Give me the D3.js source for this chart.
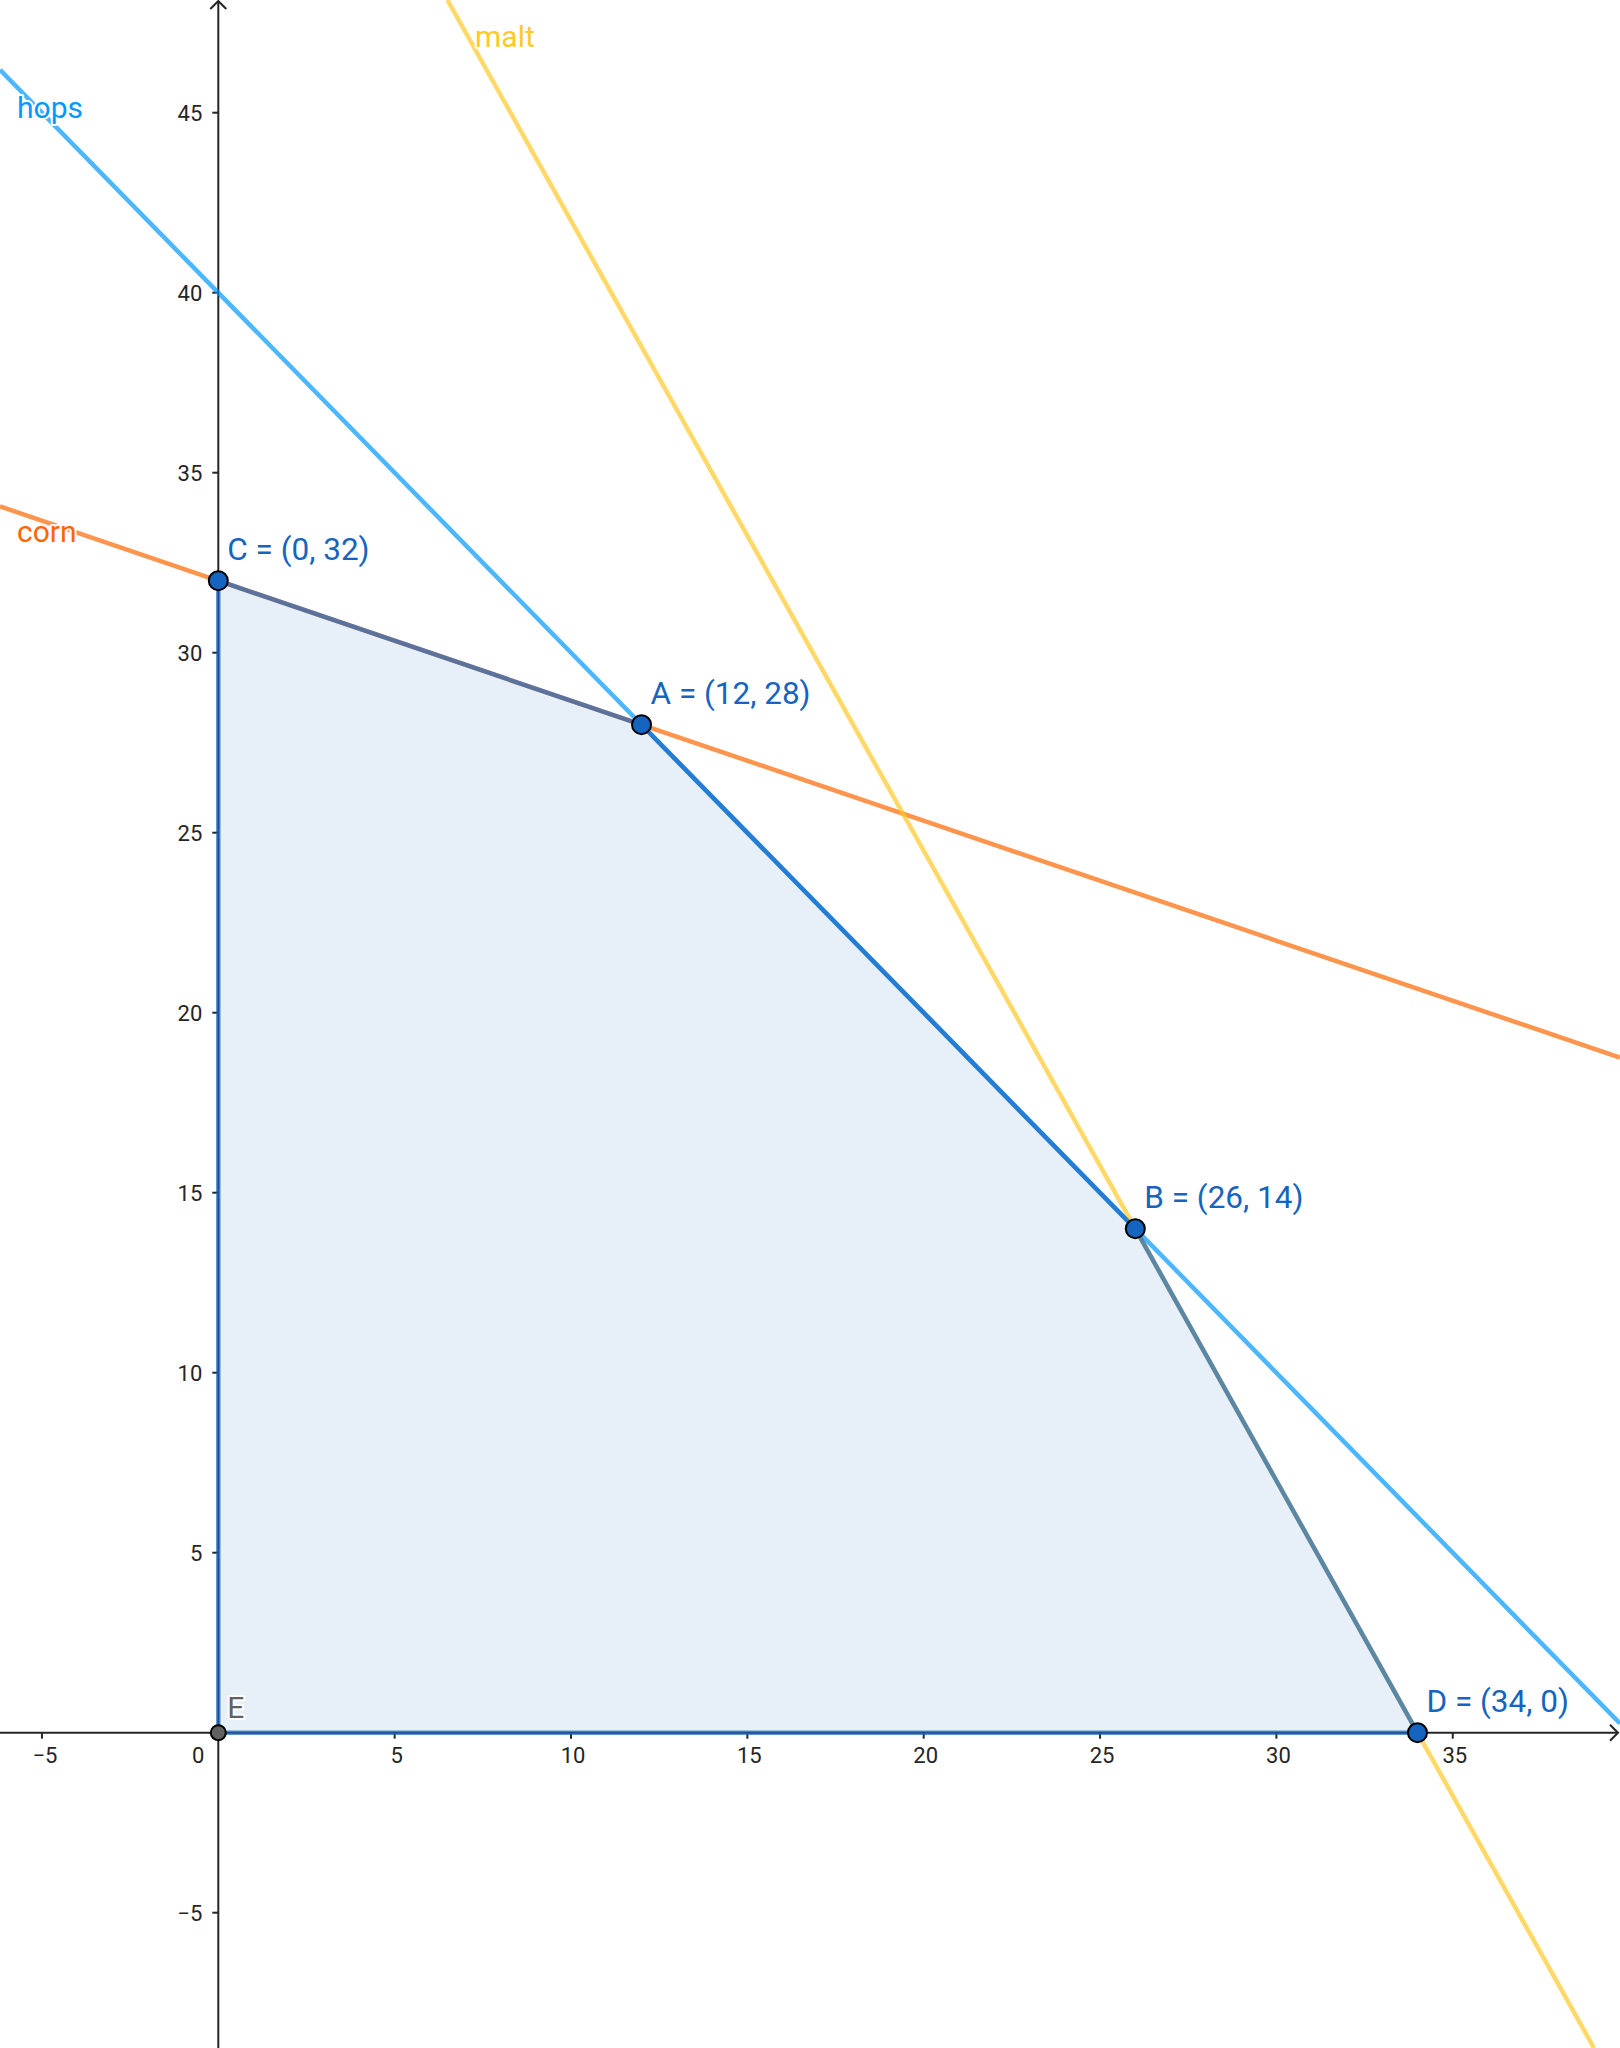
<!DOCTYPE html>
<html>
<head>
<meta charset="utf-8">
<script src="https://cdn.jsdelivr.net/npm/d3@7"></script>
<style>
  html, body { margin: 0; padding: 0; background: #fff; }
  svg { display: block; font-family: Roboto, "Noto Sans", sans-serif; }
</style>
</head>
<body>
<svg id="chart" width="1620" height="2048"></svg>
<script>
// ---- data ----
// constraint lines: a*x + b*y = c
const lineNames = ["corn", "hops", "malt"];
const lineA = [1, 1, 7];
const lineB = [3, 1, 4];
const lineC = [96, 40, 238];
const lineColors = ["#FF6600", "#0099FF", "#FFC926"];

// vertices of the feasible region
const pointNames = ["A", "B", "C", "D", "E"];
const pointX = [12, 26, 0, 34, 0];
const pointY = [28, 14, 32, 0, 0];
const pointShowCoords = [true, true, true, true, false];
const polygonOrder = ["E", "D", "B", "A", "C"];

// axis ticks
const xTicks = [-5, 0, 5, 10, 15, 20, 25, 30, 35];
const yTicks = [-5, 5, 10, 15, 20, 25, 30, 35, 40, 45];

// ---- layout ----
const W = 1620, H = 2048;
const ox = 218.3, oy = 1732.7;       // pixel position of origin
const kx = 35.27, ky = 36.0;          // pixels per unit
const x = d3.scaleLinear().domain([-ox / kx, (W - ox) / kx]).range([0, W]);
const y = d3.scaleLinear().domain([-(H - oy) / ky, oy / ky]).range([H, 0]);

const svg = d3.select("#chart");
const axisColor = "#252525";

// ---- axes ----
const gAx = svg.append("g");
gAx.append("line").attr("x1", 0).attr("x2", W - 2).attr("y1", y(0)).attr("y2", y(0))
  .attr("stroke", axisColor).attr("stroke-width", 2);
gAx.append("line").attr("x1", x(0)).attr("x2", x(0)).attr("y1", 1).attr("y2", H)
  .attr("stroke", axisColor).attr("stroke-width", 2);
// arrows
gAx.append("path")
  .attr("d", `M${W - 10},${y(0) - 8} L${W - 2},${y(0)} L${W - 10},${y(0) + 8}`)
  .attr("fill", "none").attr("stroke", axisColor).attr("stroke-width", 2);
gAx.append("path")
  .attr("d", `M${x(0) - 8},${9} L${x(0)},${1} L${x(0) + 8},${9}`)
  .attr("fill", "none").attr("stroke", axisColor).attr("stroke-width", 2);

// x ticks
xTicks.forEach(t => {
  if (t !== 0) {
    gAx.append("line").attr("x1", x(t)).attr("x2", x(t)).attr("y1", y(0)).attr("y2", y(0) + 6)
      .attr("stroke", axisColor).attr("stroke-width", 2);
  }
  const lbl = t < 0 ? "\u2212" + Math.abs(t) : String(t);
  gAx.append("text")
    .attr("x", t === 0 ? x(0) - 14 : x(t) + (t < 0 ? 3 : 2))
    .attr("y", y(0) + 30)
    .attr("text-anchor", t === 0 ? "end" : "middle")
    .attr("font-size", 22).attr("fill", axisColor)
    .text(lbl);
});
// y ticks
yTicks.forEach(t => {
  gAx.append("line").attr("x1", x(0) - 6).attr("x2", x(0)).attr("y1", y(t)).attr("y2", y(t))
    .attr("stroke", axisColor).attr("stroke-width", 2);
  const lbl = t < 0 ? "\u2212" + Math.abs(t) : String(t);
  gAx.append("text")
    .attr("x", x(0) - 16).attr("y", y(t) + 8)
    .attr("text-anchor", "end")
    .attr("font-size", 22).attr("fill", axisColor)
    .text(lbl);
});

// ---- polygon fill ----
const pIdx = n => pointNames.indexOf(n);
const polyPts = polygonOrder.map(n => [x(pointX[pIdx(n)]), y(pointY[pIdx(n)])]);
svg.append("path")
  .attr("d", d3.line()(polyPts) + "Z")
  .attr("fill", "#1565C0").attr("fill-opacity", 0.1).attr("stroke", "none");

// ---- constraint lines ----
const [x0, x1] = x.domain();
const [y0, y1] = y.domain();
function clipLine(a, b, c) {
  const pts = [];
  if (b !== 0) {
    [x0, x1].forEach(xx => { const yy = (c - a * xx) / b; if (yy >= y0 && yy <= y1) pts.push([xx, yy]); });
  }
  if (a !== 0) {
    [y0, y1].forEach(yy => { const xx = (c - b * yy) / a; if (xx >= x0 && xx <= x1) pts.push([xx, yy]); });
  }
  pts.sort((p, q) => p[0] - q[0]);
  return [pts[0], pts[pts.length - 1]];
}
const gLines = svg.append("g");
lineNames.forEach((n, i) => {
  const [p, q] = clipLine(lineA[i], lineB[i], lineC[i]);
  gLines.append("line")
    .attr("x1", x(p[0])).attr("y1", y(p[1])).attr("x2", x(q[0])).attr("y2", y(q[1]))
    .attr("stroke", lineColors[i]).attr("stroke-opacity", 0.7).attr("stroke-width", 4.5);
});

// ---- polygon edges (segments) ----
const gSeg = svg.append("g");
for (let i = 0; i < polyPts.length; i++) {
  const p = polyPts[i], q = polyPts[(i + 1) % polyPts.length];
  gSeg.append("line")
    .attr("x1", p[0]).attr("y1", p[1]).attr("x2", q[0]).attr("y2", q[1])
    .attr("stroke", "#1565C0").attr("stroke-opacity", 0.7).attr("stroke-width", 4.5)
    .attr("stroke-linecap", "round");
}

// ---- line labels ----
const lineLabelPx = [17, 17, 475];
const lineLabelDy = [30, 31, -2];
lineNames.forEach((n, i) => {
  const xd = x.invert(lineLabelPx[i]);
  const yd = (lineC[i] - lineA[i] * xd) / lineB[i];
  svg.append("text")
    .attr("x", lineLabelPx[i]).attr("y", y(yd) + lineLabelDy[i])
    .attr("font-size", 30).attr("fill", lineColors[i])
    .attr("stroke", "#fff").attr("stroke-width", 4).attr("paint-order", "stroke")
    .attr("stroke-linejoin", "round")
    .text(n);
});

// ---- points ----
const gPts = svg.append("g");
pointNames.forEach((n, i) => {
  const isE = !pointShowCoords[i];
  gPts.append("circle")
    .attr("cx", x(pointX[i])).attr("cy", y(pointY[i]))
    .attr("r", isE ? 7.5 : 9.5)
    .attr("fill", isE ? "#616161" : "#1565C0")
    .attr("stroke", "#000").attr("stroke-width", 2);
});
pointNames.forEach((n, i) => {
  const isE = !pointShowCoords[i];
  gPts.append("text")
    .attr("x", x(pointX[i]) + (isE ? 9 : 9))
    .attr("y", y(pointY[i]) + (isE ? -15 : -21))
    .attr("font-size", isE ? 30 : 31.5)
    .attr("fill", isE ? "#616161" : "#1565C0")
    .attr("stroke", "#fff").attr("stroke-width", 4).attr("paint-order", "stroke")
    .attr("stroke-linejoin", "round")
    .text(isE ? n : `${n} = (${pointX[i]}, ${pointY[i]})`);
});
</script>
</body>
</html>
